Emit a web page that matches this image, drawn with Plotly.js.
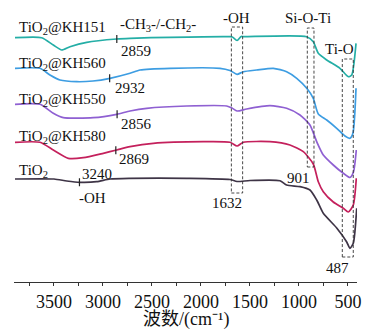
<!DOCTYPE html>
<html>
<head>
<meta charset="utf-8">
<script src="https://cdn.plot.ly/plotly-3.0.1.min.js"></script>
<style>html,body{margin:0;padding:0;background:#fff;}#chart{width:367px;height:330px;}</style>
</head>
<body>
<div id="chart"></div>
<script>
// Wavenumber (cm-1) and offset transmittance (a.u.)
const wnTiO2 = [3898,3500,3370,3235,3064,2929,2724,2146,1704,1632,1500,1194,1126,990,888,819,752,615,513,480,446,411];
const tTiO2  = [103,103,101,99.7,100.3,103,103.7,103.7,102.5,100.5,101.5,101.3,97,95.3,92,82,68.7,54,40,33.7,38.7,73.7];

const wnKH580 = [3898,3643,3507,3354,3201,2997,2860,2724,2487,1977,1704,1632,1568,1296,1092,956,854,803,752,650,548,497,446,415];
const tKH580  = [139.7,139.7,132,123.7,124.3,128.7,132,135.3,138.7,140.3,139.7,136,139.7,140.3,137,130.3,118,100.3,90.3,80,73.7,70,77,103.7];

const wnKH550 = [3898,3643,3507,3405,3099,2860,2724,2554,2146,1738,1684,1632,1534,1296,1126,990,888,819,752,650,548,480,444,415];
const tKH550  = [177.7,177.7,168.7,164.3,164.3,167.7,171,173.7,176,176,174,171,173,176.3,173.7,167,157,140.3,127,117,108.7,104.5,110,132];

const wnKH560 = [3898,3643,3541,3439,3268,3102,2929,2724,2622,2316,1806,1704,1632,1568,1432,1262,1126,1023,921,854,803,717,615,531,480,449,418];
const tKH560  = [213.7,213.7,207,202,200.3,201,203.7,208.7,212,213.7,213.7,211.5,207.7,210.3,212,213.7,210.3,203.7,193.7,183.7,168,162,153.7,146,143.7,149,193.7];

const wnKH151 = [3898,3626,3507,3421,3337,3166,2860,2724,2316,1704,1680,1632,1590,1568,922,854,803,717,582,497,462,418];
const tKH151  = [244.3,244.3,237,232,235.3,239.7,243,243.7,244.7,245.3,245,241.5,245.5,245.3,245.3,240.3,228.7,222,213.7,205.3,207,238.7];

const seriesNames = ['TiO<sub>2</sub>','TiO<sub>2</sub>@KH580','TiO<sub>2</sub>@KH550','TiO<sub>2</sub>@KH560','TiO<sub>2</sub>@KH151'];
const seriesColors = ['#3e3446','#c4205c','#8f60d2','#3d9de2','#24aea6'];
const seriesX = [wnTiO2, wnKH580, wnKH550, wnKH560, wnKH151];
const seriesY = [tTiO2, tKH580, tKH550, tKH560, tKH151];

// Peak markers on each curve
const peakWn = [3240, 2869, 2856, 2932, 2859];
const peakLabels = ['3240','2869','2856','2932','2859'];
// Highlighted bands
const bandNames = ['-OH','Si-O-Ti','Ti-O'];
const bandWn = [[1690,1575],[915,847],[558,446]];
const bandT = [[89,255],[115,254],[25,223]];
const bandValues = ['1632','901','487'];

const tickVals = [3500,3000,2500,2000,1500,1000,500];
const tickText = ['3500','3000','2500','2000','1500','1000','500'];
const xTitle = '波数/(cm⁻¹)';

function interp(xs, ys, x){
  for(let i=0;i<xs.length-1;i++){
    const a=xs[i], b=xs[i+1];
    if((x<=a && x>=b)){ const f=(a-x)/(a-b); return ys[i]+f*(ys[i+1]-ys[i]); }
  }
  return ys[ys.length-1];
}

const FONT = 'Liberation Serif, "Times New Roman", "Noto Sans CJK SC", serif';

const traces = seriesX.map((xs,i)=>({
  x: xs, y: seriesY[i], type:'scatter', mode:'lines',
  line:{color:seriesColors[i], width:1.7, shape:'spline', smoothing:0.6},
  name: seriesNames[i], hoverinfo:'skip'
}));

const shapes = [];
peakWn.forEach((w,i)=>{
  const v = interp(seriesX[i], seriesY[i], w);
  shapes.push({type:'line', xref:'x', yref:'y', x0:w, x1:w, y0:v-4, y1:v+4, line:{color:'#222', width:1.2}});
});
bandWn.forEach((b,i)=>{
  shapes.push({type:'rect', xref:'x', yref:'y', x0:b[0], x1:b[1], y0:bandT[i][0], y1:bandT[i][1],
    line:{color:'#333', width:0.9, dash:'3px,2px'}, fillcolor:'rgba(0,0,0,0)'});
});

const ann = [];
function A(text,x,y,xa,extra){ ann.push(Object.assign({text:text,x:x,y:y,xref:'x',yref:'y',showarrow:false,xanchor:xa||'left',yanchor:'middle',font:{family:FONT,size:15,color:'#111'}},extra||{})); }
// series labels (top to bottom)
const labelT = [111,145,182,218,254.5];
seriesNames.forEach((n,i)=>A(n,3878,labelT[i],'left'));
// peak labels
const peakLabelPos = [[3235,108.5],[2857,123.5],[2837,158],[2898,194],[2837,231]];
peakLabels.forEach((t,i)=>A(t,peakLabelPos[i][0],peakLabelPos[i][1],'left'));
A('-OH',3265,84.5,'left');
A('-CH<sub>3</sub>-/-CH<sub>2</sub>-',2439,257,'center');
// band labels
A(bandNames[0],1633,264.5,'center');
A(bandNames[1],903,264.5,'center');
A(bandNames[2],587,233,'center');
A(bandValues[0],1735,79.5,'center');
A(bandValues[1],1000,104.5,'center');
A(bandValues[2],612,14,'center');
// x-axis title
ann.push({text:xTitle, xref:'paper', yref:'paper', x:0.5, y:-0.138, xanchor:'center', yanchor:'middle',
  showarrow:false, borderpad:0, font:{family:FONT,size:18,color:'#111'}});

const layout = {
  width:367, height:330,
  margin:{l:14, r:10, t:10, b:48},
  paper_bgcolor:'#fff', plot_bgcolor:'#fff',
  showlegend:false,
  font:{family:FONT, color:'#111'},
  xaxis:{
    range:[3908,408], autorange:false,
    tickvals:tickVals, ticktext:tickText,
    ticks:'outside', ticklen:3, tickwidth:1, tickcolor:'#333',
    minor:{dtick:250, ticks:'outside', ticklen:2.5, tickwidth:1, tickcolor:'#333', showgrid:false},
    showline:true, linecolor:'#333', linewidth:1,
    showgrid:false, zeroline:false,
    tickfont:{family:FONT, size:18, color:'#111'}
  },
  yaxis:{range:[0,272], autorange:false, visible:false, showgrid:false, zeroline:false},
  shapes:shapes, annotations:ann
};
Plotly.newPlot('chart', traces, layout, {staticPlot:true, displayModeBar:false});
</script>
</body>
</html>
